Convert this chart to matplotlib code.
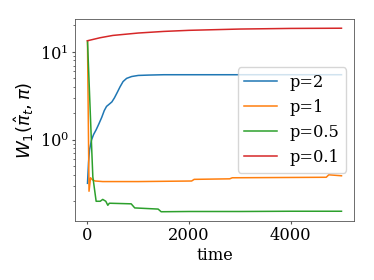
import matplotlib
matplotlib.use("Agg")
import matplotlib.pyplot as plt

# p=2
t_p2 = [0, 20, 40, 80, 120, 170, 220, 280, 330, 375, 430, 480, 530, 590, 640, 700, 770, 870, 1000, 1200, 1500, 2000, 3000, 4000, 5000]
w_p2 = [0.32, 0.55, 0.77, 1.0, 1.15, 1.3, 1.5, 1.8, 2.15, 2.4, 2.55, 2.7, 3.0, 3.5, 4.0, 4.6, 5.0, 5.25, 5.4, 5.45, 5.5, 5.5, 5.5, 5.5, 5.5]

# p=1
t_p1 = [0, 30, 60, 100, 150, 300, 1000, 2050, 2100, 2800, 2850, 4700, 4750, 5000]
w_p1 = [13.3, 0.26, 0.37, 0.35, 0.34, 0.335, 0.335, 0.34, 0.355, 0.36, 0.37, 0.375, 0.4, 0.39]

# p=0.5
t_p05 = [0, 73, 105, 170, 250, 300, 360, 400, 430, 860, 930, 1390, 1450, 2000, 3000, 4000, 5000]
w_p05 = [13.3, 1.09, 0.38, 0.2, 0.2, 0.21, 0.2, 0.18, 0.19, 0.187, 0.168, 0.163, 0.152, 0.153, 0.153, 0.154, 0.154]

# p=0.1
t_p01 = [0, 250, 500, 1000, 1500, 2000, 3000, 4000, 5000]
w_p01 = [13.4, 14.5, 15.4, 16.4, 17.1, 17.6, 18.2, 18.5, 18.6]

plt.rcParams['font.family'] = 'DejaVu Serif'
plt.rcParams['font.size'] = 11.7
plt.rcParams['axes.edgecolor'] = '#555555'
plt.rcParams['axes.linewidth'] = 0.6
plt.rcParams['xtick.color'] = '#555555'
plt.rcParams['ytick.color'] = '#555555'
plt.rcParams['xtick.labelcolor'] = 'black'
plt.rcParams['ytick.labelcolor'] = 'black'
plt.rcParams['xtick.major.size'] = 2.1
plt.rcParams['ytick.major.size'] = 2.1
plt.rcParams['ytick.minor.size'] = 1.2
plt.rcParams['xtick.major.pad'] = 2.1
plt.rcParams['ytick.major.pad'] = 2.1
plt.rcParams['axes.labelpad'] = 2.4

fig = plt.figure(figsize=(3.74, 2.8), dpi=100)
ax = fig.add_axes([0.2, 0.211, 0.747, 0.721])

ax.plot(t_p2, w_p2, color="#1f77b4", lw=1.1, label="p=2")
ax.plot(t_p1, w_p1, color="#ff7f0e", lw=1.1, label="p=1")
ax.plot(t_p05, w_p05, color="#2ca02c", lw=1.1, label="p=0.5")
ax.plot(t_p01, w_p01, color="#d62728", lw=1.1, label="p=0.1")

ax.set_yscale("log")
ax.set_xticks([0, 2000, 4000])
ax.set_xlabel("time")
ax.set_ylabel(r"$W_1(\hat{\pi}_t, \pi)$", fontsize=13)
ax.legend(loc="center right")

fig.savefig("out.png", dpi=100)
